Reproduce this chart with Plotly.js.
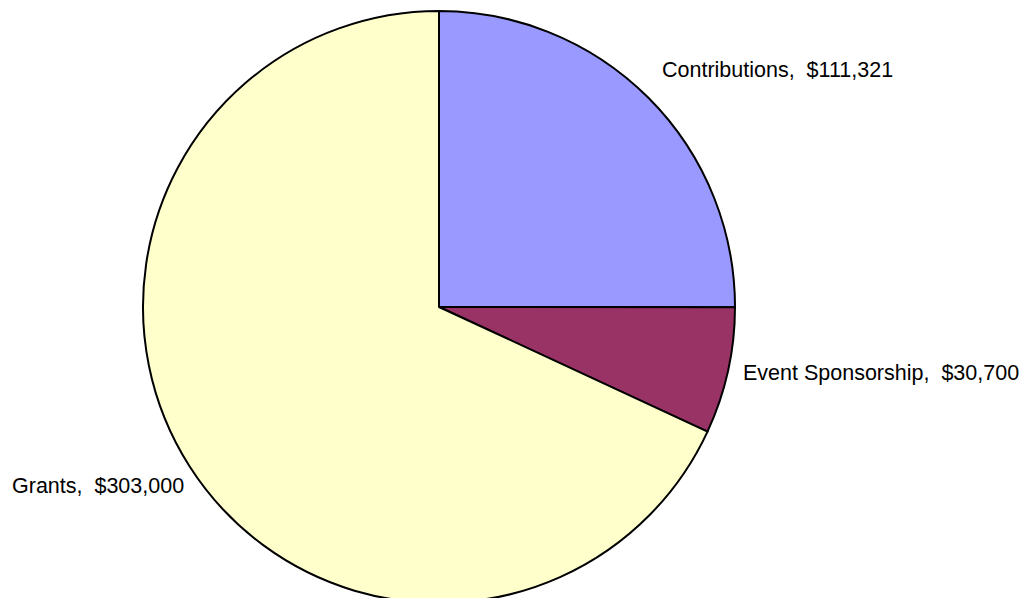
<!DOCTYPE html>
<html>
<head>
<meta charset="utf-8">
<script src="https://cdn.plot.ly/plotly-3.0.1.min.js"></script>
<style>
html, body { margin: 0; padding: 0; background: #ffffff; overflow: hidden; }
#chart { width: 1032px; height: 610px; }
</style>
</head>
<body>
<div id="chart"></div>
<script>
const categories = ["Contributions", "Event Sponsorship", "Grants"];
const amounts = [111321, 30700, 303000];
const sliceColors = ["#9999FF", "#993366", "#FFFFCC"];

function money(v) { return "$" + v.toLocaleString("en-US"); }
function labelText(i) { return categories[i] + ",\u00a0 " + money(amounts[i]); }

const W = 1032, H = 610;
// label placement (pixel positions on the page)
const labelPos = [
  { x: 660, y: 70, anchor: "left" },
  { x: 741, y: 373, anchor: "left" },
  { x: 186, y: 486, anchor: "right" }
];

const trace = {
  type: "pie",
  labels: categories,
  values: amounts,
  sort: false,
  direction: "clockwise",
  rotation: 0,
  textinfo: "none",
  hoverinfo: "label+value",
  marker: { colors: sliceColors, line: { color: "#000000", width: 2 } },
  domain: { x: [143 / W, 735 / W], y: [(H - 603) / H, (H - 11) / H] },
  showlegend: false
};

const annotations = categories.map((c, i) => ({
  xref: "paper", yref: "paper",
  x: labelPos[i].x / W, y: 1 - labelPos[i].y / H,
  xanchor: labelPos[i].anchor, yanchor: "middle",
  text: labelText(i), showarrow: false,
  font: { family: "Liberation Sans, Arial, sans-serif", size: 21.5, color: "#000000" }
}));

const layout = {
  width: W, height: H,
  margin: { l: 0, r: 0, t: 0, b: 0, pad: 0 },
  paper_bgcolor: "#ffffff", plot_bgcolor: "#ffffff",
  showlegend: false,
  annotations: annotations
};

Plotly.newPlot("chart", [trace], layout, { displayModeBar: false, staticPlot: true });
</script>
</body>
</html>
